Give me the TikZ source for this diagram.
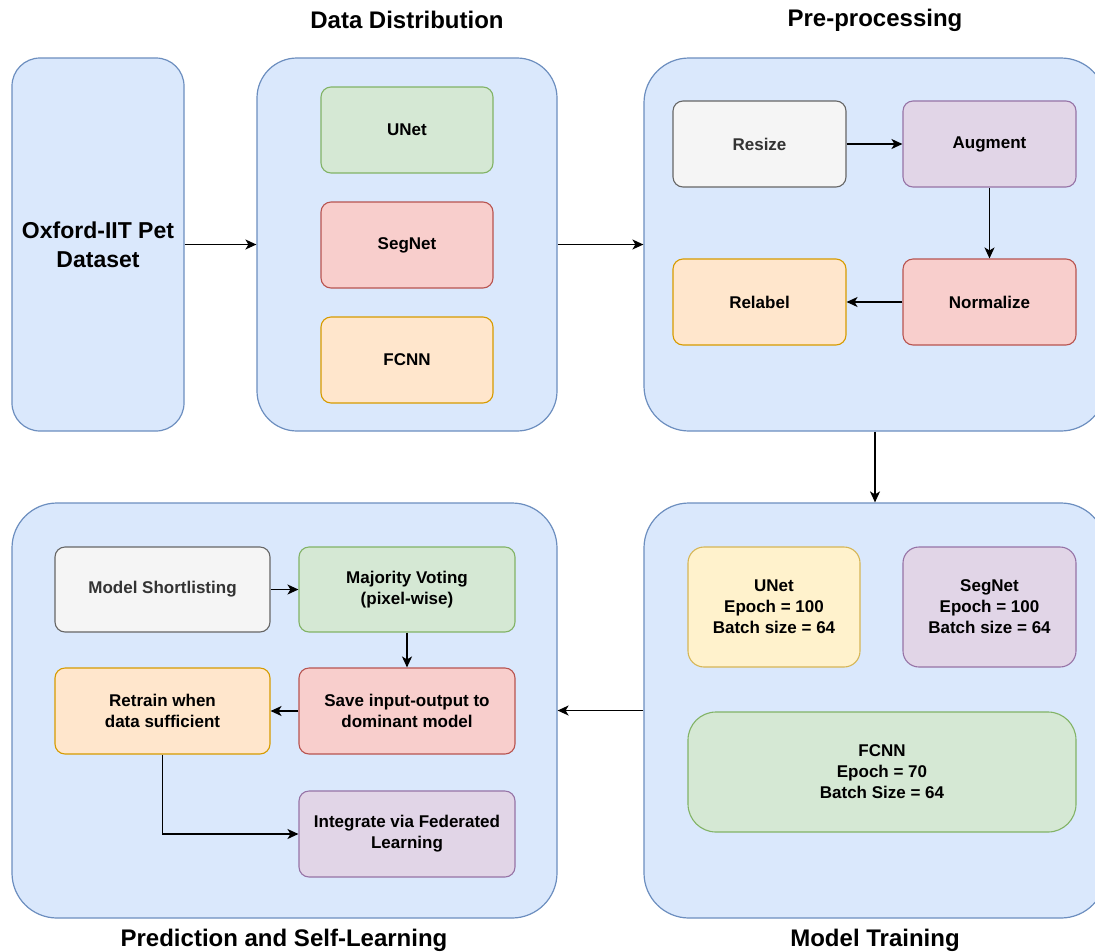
\documentclass[tikz,border=0pt]{standalone}
\usepackage{fontspec}
\setmainfont{Liberation Sans}
\usetikzlibrary{arrows.meta}
\definecolor{bluef}{HTML}{DAE8FC}\definecolor{blued}{HTML}{6C8EBF}
\definecolor{greenf}{HTML}{D5E8D4}\definecolor{greend}{HTML}{82B366}
\definecolor{redf}{HTML}{F8CECC}\definecolor{redd}{HTML}{B85450}
\definecolor{orangef}{HTML}{FFE6CC}\definecolor{oranged}{HTML}{D79B00}
\definecolor{greyf}{HTML}{F5F5F5}\definecolor{greyd}{HTML}{666666}\definecolor{greyt}{HTML}{333333}
\definecolor{purplef}{HTML}{E1D5E7}\definecolor{purpled}{HTML}{9673A6}
\definecolor{yellowf}{HTML}{FFF2CC}\definecolor{yellowd}{HTML}{D6B656}
\tikzset{
  container/.style={draw=blued, fill=bluef, line width=1.2pt, rectangle, inner sep=0pt},
  card/.style={rectangle, rounded corners=10pt, line width=1.1pt, inner sep=2pt, align=center,
    font=\fontsize{17}{21}\selectfont\bfseries},
  gbox/.style={card, draw=greend, fill=greenf},
  rbox/.style={card, draw=redd, fill=redf},
  obox/.style={card, draw=oranged, fill=orangef},
  kbox/.style={card, draw=greyd, fill=greyf, text=greyt},
  pbox/.style={card, draw=purpled, fill=purplef},
  ybox/.style={card, draw=yellowd, fill=yellowf},
  title/.style={font=\fontsize{24}{28}\selectfont\bfseries, inner sep=0pt},
  arr/.style={draw=black, line width=1.5pt, -{Stealth[length=11pt,width=10pt,inset=3pt]}}
}
\begin{document}
\begin{tikzpicture}[x=1pt,y=-1pt]
\clip (0,0) rectangle (1095,951);
% containers
\node[container, rounded corners=28pt, minimum width=172pt, minimum height=373pt,
  align=center, font=\fontsize{23}{29}\selectfont\bfseries] (ox) at (98,244.5) {Oxford-IIT Pet\\Dataset};
\node[container, rounded corners=40pt, minimum width=300pt, minimum height=373pt] (dd) at (407,244.5) {};
\node[container, rounded corners=45pt, minimum width=462pt, minimum height=373pt] (pp) at (875,244.5) {};
\node[container, rounded corners=45pt, minimum width=462pt, minimum height=415pt] (mt) at (875,710.5) {};
\node[container, rounded corners=45pt, minimum width=545pt, minimum height=415pt] (ps) at (284.5,710.5) {};
% titles
\node[title] (t1) at (407,20) {Data Distribution};
\node[title] (t2) at (875,20) {Pre-processing};
\node[title] (t3) at (284,940) {Prediction and Self-Learning};
\node[title] (t4) at (875,940) {Model Training};
% data distribution
\node[gbox, minimum width=172pt, minimum height=86pt] (du) at (407,130) {UNet};
\node[rbox, minimum width=172pt, minimum height=86pt] (ds) at (407,245) {SegNet};
\node[obox, minimum width=172pt, minimum height=86pt] (df) at (407,360) {FCNN};
% pre-processing
\node[kbox, minimum width=173pt, minimum height=86pt] (rs) at (759.5,144) {Resize};
\node[pbox, minimum width=173pt, minimum height=86pt] (au) at (989.5,144) {Augment};
\node[rbox, minimum width=173pt, minimum height=86pt] (no) at (989.5,302) {Normalize};
\node[obox, minimum width=173pt, minimum height=86pt] (rl) at (759.5,302) {Relabel};
% model training
\node[ybox, rounded corners=16pt, minimum width=172pt, minimum height=120pt] (mu) at (774,607) {UNet\\Epoch = 100\\Batch size = 64};
\node[pbox, rounded corners=16pt, minimum width=173pt, minimum height=120pt] (ms) at (989.5,607) {SegNet\\Epoch = 100\\Batch size = 64};
\node[gbox, rounded corners=28pt, minimum width=388pt, minimum height=120pt] (mf) at (882,772) {FCNN\\Epoch = 70\\Batch Size = 64};
% prediction
\node[kbox, minimum width=215pt, minimum height=85pt] (sl) at (162.5,589.5) {Model Shortlisting};
\node[gbox, minimum width=216pt, minimum height=85pt] (mv) at (407,589.5) {Majority Voting\\(pixel-wise)};
\node[rbox, minimum width=216pt, minimum height=86pt] (sv) at (407,711) {Save input-output to\\dominant model};
\node[obox, minimum width=215pt, minimum height=86pt] (rt) at (162.5,711) {Retrain when\\data sufficient};
\node[pbox, minimum width=216pt, minimum height=86pt] (ig) at (407,834) {Integrate via Federated\\Learning};
% arrows
\draw[arr] (ox.east) -- (dd.west);
\draw[arr] (dd.east) -- (pp.west);
\draw[arr] (rs.east) -- (au.west);
\draw[arr] (au.south) -- (no.north);
\draw[arr] (no.west) -- (rl.east);
\draw[arr] (pp.south) -- (mt.north);
\draw[arr] (mt.west) -- (ps.east);
\draw[arr] (sl.east) -- (mv.west);
\draw[arr] (mv.south) -- (sv.north);
\draw[arr] (sv.west) -- (rt.east);
\draw[arr] (rt.south) |- (ig.west);
\end{tikzpicture}
\end{document}
